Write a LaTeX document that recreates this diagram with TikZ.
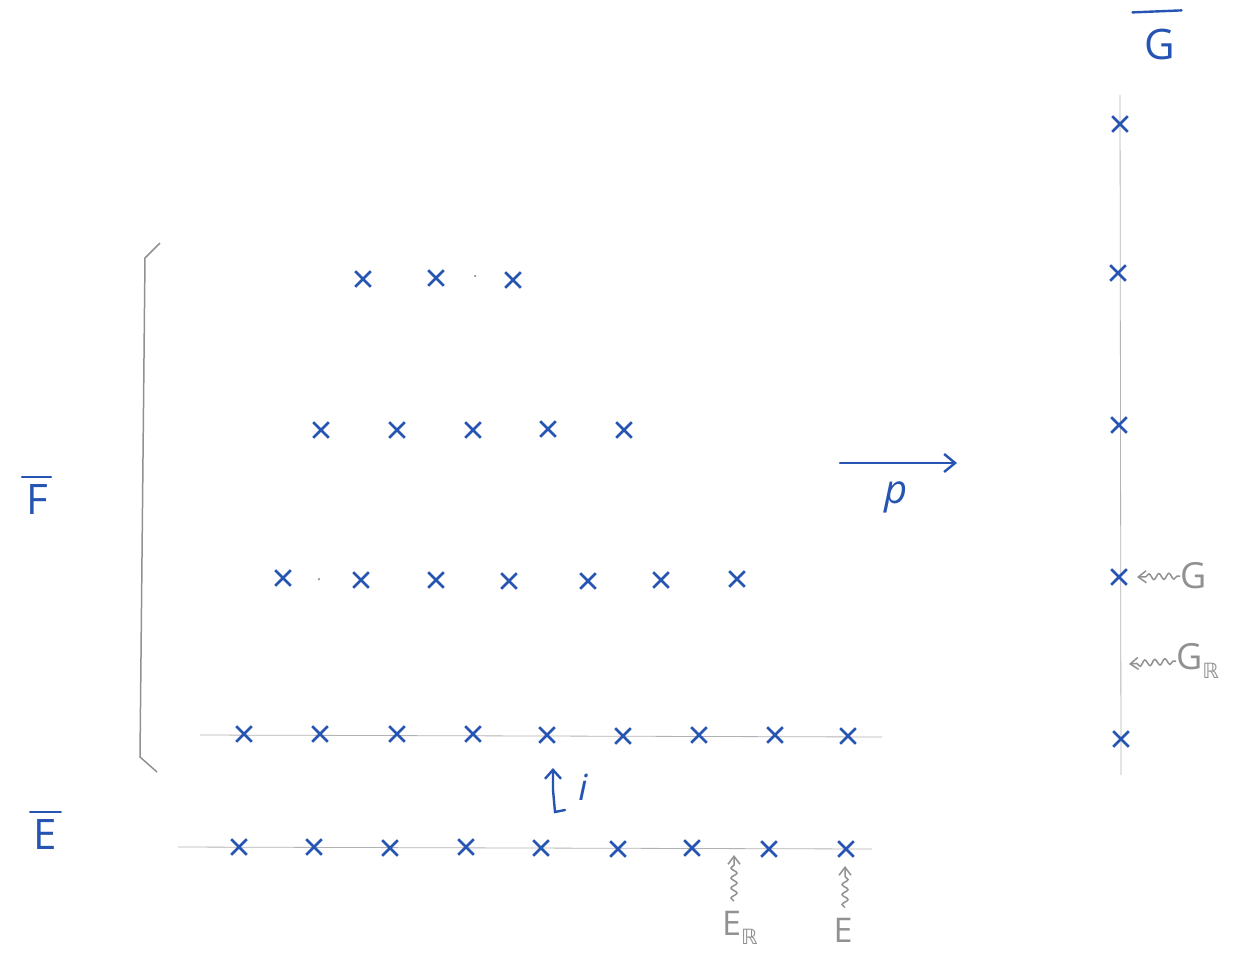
\documentclass[tikz,border=0pt]{standalone}
\usepackage{fontspec}
\setmainfont{Open Sans}
\newfontfamily\dejavu{DejaVu Sans}
\usetikzlibrary{shapes.misc,decorations.pathmorphing,arrows.meta}
\definecolor{ink}{RGB}{38,84,178}
\definecolor{pencil}{RGB}{145,145,145}
\newcommand\subR{\raisebox{-9pt}{\fontsize{21}{23}\selectfont\dejavu ℝ}}
\tikzset{
  pt/.style={cross out,draw=ink,line width=2.6pt,minimum size=13pt,inner sep=0pt},
  dotm/.style={circle,fill=pencil,inner sep=0pt,minimum size=2.5pt},
  axis/.style={draw=pencil!70,line width=0.8pt},
  lbl/.style={text=ink,font=\fontsize{42}{46}\selectfont,inner sep=0pt},
  bar/.style={draw=ink,line width=2.4pt,line cap=round},
  glbl/.style={text=pencil,font=\fontsize{36}{40}\selectfont,inner sep=0pt},
  blue arrow/.style={draw=ink,line width=2.4pt,line cap=round},
  wavy/.style={draw=pencil,line width=1.5pt,decorate,decoration={snake,amplitude=3pt,segment length=10pt,post length=6pt},-{Straight Barb[length=8pt,width=12pt]}},
  hwavy/.style={draw=pencil,line width=1.5pt,decorate,decoration={snake,amplitude=3pt,segment length=10pt,pre length=3pt,post length=6pt},-{Straight Barb[length=8pt,width=12pt]}}
}
\begin{document}
\begin{tikzpicture}[x=1pt,y=-1pt]
\useasboundingbox (0,0) rectangle (1233,956);
% labels with bars
\node[lbl] (Fbar) at (37,499) {F};
\draw[bar] ([xshift=-4pt,yshift=7pt]Fbar.north west) -- ([xshift=3pt,yshift=7pt]Fbar.north east);
\node[lbl] (Ebar) at (45,834) {E};
\draw[bar] ([xshift=-3pt,yshift=7pt]Ebar.north west) -- ([xshift=4pt,yshift=7pt]Ebar.north east);
\node[lbl] (Gbar) at (1160,44) {G};
\draw[bar] ([xshift=-12pt,yshift=16pt]Gbar.north west) -- ([xshift=6pt,yshift=18pt]Gbar.north east);
% bracket
\coordinate (bt) at (145,258);
\coordinate (bb) at (140,757);
\coordinate (btt) at (160,243);
\coordinate (bbt) at (157,772);
\draw[draw=pencil,line width=1.5pt] (btt) -- (bt) -- (bb) -- (bbt);
% G axis
\coordinate (gtop) at (1120,95);
\coordinate (gbot) at (1121,775);
\draw[axis] (gtop) -- (gbot);
\node[pt] (g1) at (1120,124) {};
\node[pt] (g2) at (1118,273) {};
\node[pt] (g3) at (1119,425) {};
\node[pt] (g4) at (1119,577) {};
\node[pt] (g5) at (1121,739) {};
% G labels
\node[glbl,anchor=west] (G) at (1180,576) {G};
\node[glbl,anchor=west] (GR) at (1176,661) {G\subR};
\coordinate (gaend) at (1137,577);
\coordinate (grend) at (1129,664);
\draw[hwavy] (G.west) -- (gaend);
\draw[hwavy] (GR.west) -- (grend);
% row 1
\node[pt] (a1) at (363,279) {};
\node[pt] (a2) at (436,278) {};
\node[dotm] (ad) at (475,276) {};
\node[pt] (a3) at (513,280) {};
% row 2
\node[pt] (b1) at (321,430) {};
\node[pt] (b2) at (397,430) {};
\node[pt] (b3) at (473,430) {};
\node[pt] (b4) at (548,429) {};
\node[pt] (b5) at (624,430) {};
% row 3
\node[pt] (c1) at (283,578) {};
\node[dotm] (cd) at (319,579) {};
\node[pt] (c2) at (361,580) {};
\node[pt] (c3) at (436,580) {};
\node[pt] (c4) at (509,581) {};
\node[pt] (c5) at (588,581) {};
\node[pt] (c6) at (661,580) {};
\node[pt] (c7) at (737,579) {};
% row 4
\coordinate (r4l) at (200,735);
\coordinate (r4r) at (882,737);
\draw[axis] (r4l) -- (r4r);
\node[pt] (d1) at (244,734) {};
\node[pt] (d2) at (320,734) {};
\node[pt] (d3) at (397,734) {};
\node[pt] (d4) at (473,734) {};
\node[pt] (d5) at (547,735) {};
\node[pt] (d6) at (623,736) {};
\node[pt] (d7) at (699,735) {};
\node[pt] (d8) at (775,735) {};
\node[pt] (d9) at (848,736) {};
% E row
\coordinate (el) at (178,847);
\coordinate (er) at (872,849);
\draw[axis] (el) -- (er);
\node[pt] (e1) at (239,847) {};
\node[pt] (e2) at (314,847) {};
\node[pt] (e3) at (390,848) {};
\node[pt] (e4) at (466,847) {};
\node[pt] (e5) at (541,848) {};
\node[pt] (e6) at (618,849) {};
\node[pt] (e7) at (692,848) {};
\node[pt] (e8) at (769,849) {};
\node[pt] (e9) at (846,849) {};
% i arrow
\coordinate (it) at (553,768);
\coordinate (ib) at (565,810);
\draw[blue arrow,-{Straight Barb[length=9pt,width=16pt]}] (ib) -- (555,812) -- (553,790) -- (it);
\node[lbl,font=\fontsize{36}{40}\selectfont\itshape] (i) at (583,787) {i};
% p arrow
\coordinate (pl) at (840,463);
\coordinate (pr) at (957,463);
\draw[blue arrow,-{Straight Barb[length=11pt,width=18pt]}] (pl) -- (pr);
\node[lbl,font=\fontsize{40}{44}\selectfont\itshape] (p) at (896,497) {p};
% E labels
\node[glbl,font=\fontsize{34}{38}\selectfont] (ER) at (740,928) {E\subR};
\node[glbl,font=\fontsize{34}{38}\selectfont] (EE) at (843,930) {E};
\coordinate (erend) at (734,855);
\coordinate (eend) at (845,866);
\draw[wavy] ([yshift=10pt]ER.north -| erend) -- (erend);
\draw[wavy] ([yshift=10pt]EE.north -| eend) -- (eend);
\end{tikzpicture}
\end{document}
